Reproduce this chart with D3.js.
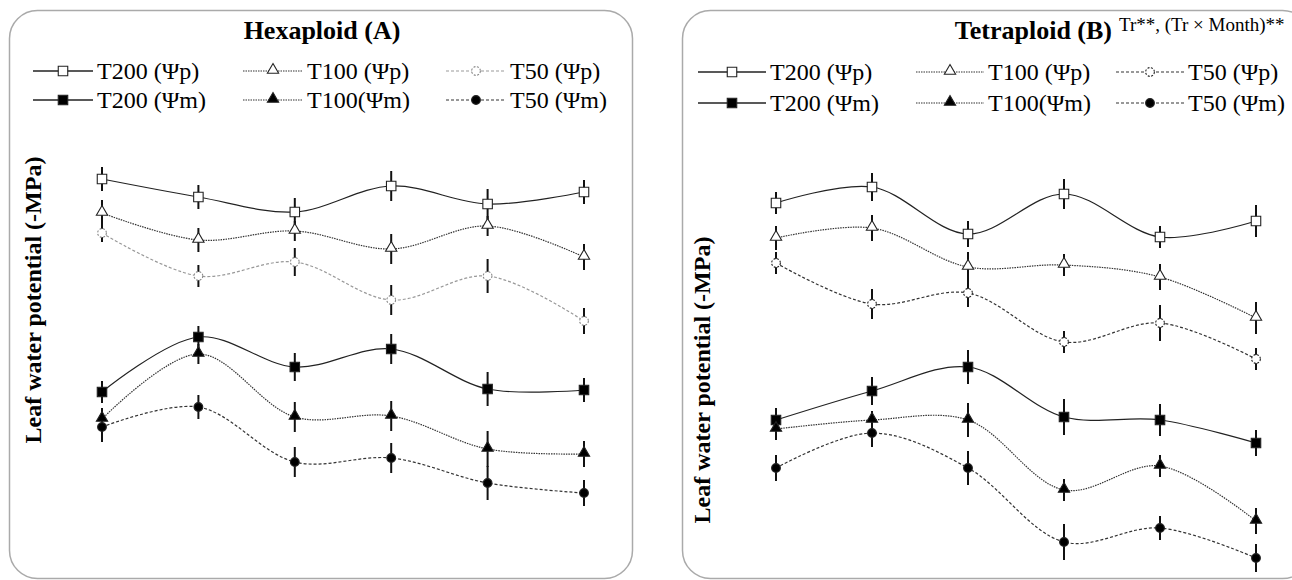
<!DOCTYPE html>
<html>
<head>
<meta charset="utf-8">
<script src="https://cdn.jsdelivr.net/npm/d3@7"></script>
<style>
  body { margin: 0; background: #fff; }
  svg { display: block; font-family: "Liberation Serif", "Times New Roman", serif; }
</style>
</head>
<body>
<div id="chart"></div>
<script>
// months (no labels shown on the figure)
const months = ["M1", "M2", "M3", "M4", "M5", "M6"];

// series keys and legend labels
const seriesKeys = ["T200p", "T100p", "T50p", "T200m", "T100m", "T50m"];
const seriesLabels = ["T200 (Ψp)", "T100 (Ψp)", "T50 (Ψp)", "T200 (Ψm)", "T100(Ψm)", "T50 (Ψm)"];

// Hexaploid (A) – leaf water potential (-MPa), means
const hexT200p = [0.99, 1.17, 1.32, 1.06, 1.24, 1.12];
const hexT100p = [1.33, 1.60, 1.51, 1.69, 1.46, 1.77];
const hexT50p  = [1.53, 1.96, 1.82, 2.20, 1.96, 2.41];
const hexT200m = [3.12, 2.57, 2.87, 2.69, 3.09, 3.10];
const hexT100m = [3.39, 2.74, 3.37, 3.36, 3.69, 3.74];
const hexT50m  = [3.47, 3.27, 3.82, 3.78, 4.03, 4.13];
// Hexaploid (A) – error bars
const hexT200pErr = [0.12, 0.12, 0.14, 0.15, 0.15, 0.12];
const hexT100pErr = [0.13, 0.12, 0.10, 0.15, 0.10, 0.13];
const hexT50pErr  = [0.09, 0.11, 0.14, 0.15, 0.17, 0.13];
const hexT200mErr = [0.11, 0.11, 0.14, 0.15, 0.17, 0.12];
const hexT100mErr = [0.11, 0.10, 0.15, 0.15, 0.18, 0.13];
const hexT50mErr  = [0.15, 0.12, 0.15, 0.15, 0.17, 0.13];

// Tetraploid (B) – means
const tetT200p = [1.23, 1.07, 1.54, 1.14, 1.57, 1.41];
const tetT100p = [1.58, 1.48, 1.87, 1.85, 1.97, 2.38];
const tetT50p  = [1.83, 2.24, 2.13, 2.62, 2.43, 2.79];
const tetT200m = [3.40, 3.11, 2.87, 3.37, 3.40, 3.63];
const tetT100m = [3.49, 3.40, 3.40, 4.10, 3.86, 4.41];
const tetT50m  = [3.88, 3.53, 3.88, 4.62, 4.48, 4.78];
// Tetraploid (B) – error bars
const tetT200pErr = [0.11, 0.14, 0.13, 0.15, 0.11, 0.16];
const tetT100pErr = [0.12, 0.13, 0.15, 0.11, 0.13, 0.16];
const tetT50pErr  = [0.11, 0.15, 0.14, 0.11, 0.18, 0.11];
const tetT200mErr = [0.12, 0.14, 0.17, 0.18, 0.16, 0.13];
const tetT100mErr = [0.11, 0.09, 0.17, 0.11, 0.11, 0.13];
const tetT50mErr  = [0.13, 0.14, 0.17, 0.18, 0.12, 0.14];

const width = 1292;
const height = 580;

const svg = d3.select("#chart").append("svg")
  .attr("width", width)
  .attr("height", height);

// one y scale for both panels (axis itself is not drawn)
const y = d3.scaleLinear().domain([0.5, 5]).range([130, 580]);

// look of each series
const styles = {
  T200p: { shape: "square", fill: "#fff", dash: null, stroke: "#222" },
  T100p: { shape: "triangle", fill: "#fff", dash: "1.5,1", stroke: "#333" },
  T50p:  { shape: "circle", fill: "#fff", dash: "3,2", stroke: "#333" },
  T200m: { shape: "square", fill: "#000", dash: null, stroke: "#222" },
  T100m: { shape: "triangle", fill: "#000", dash: "1.5,1", stroke: "#333" },
  T50m:  { shape: "circle", fill: "#000", dash: "3,2", stroke: "#333" }
};

const symbolFor = (shape) => {
  if (shape === "square") return d3.symbol().type(d3.symbolSquare).size(90);
  if (shape === "triangle") return d3.symbol().type(d3.symbolTriangle).size(55);
  return d3.symbol().type(d3.symbolCircle).size(60);
};

function drawMarker(g, key, cx, cy, lightGrey) {
  const st = styles[key];
  g.append("path")
    .attr("d", symbolFor(st.shape)())
    .attr("transform", st.shape === "triangle" ? `translate(${cx},${cy - 1})` : `translate(${cx},${cy})`)
    .attr("fill", st.fill)
    .attr("stroke", lightGrey && key === "T50p" ? "#888" : "#222")
    .attr("stroke-width", 1.1)
    .attr("stroke-dasharray", key === "T50p" ? "2,1.5" : null);
}

function drawPanel(opt) {
  const g = svg.append("g");

  // rounded frame
  g.append("rect")
    .attr("x", opt.frame[0]).attr("y", 10.5)
    .attr("width", opt.frame[1]).attr("height", 568)
    .attr("rx", 28).attr("ry", 28)
    .attr("fill", "none")
    .attr("stroke", "#aaa")
    .attr("stroke-width", 1.5);

  const x = d3.scalePoint().domain(months).range(opt.xRange);

  const line = d3.line()
    .x((d) => x(d.month))
    .y((d) => y(d.value))
    .curve(d3.curveCatmullRom.alpha(0.5));

  seriesKeys.forEach((key) => {
    const st = styles[key];
    const data = months.map((m, i) => ({ month: m, value: opt.values[key][i], err: opt.errors[key][i] }));
    const grey = opt.lightP && key === "T50p";

    g.append("path")
      .datum(data)
      .attr("fill", "none")
      .attr("stroke", grey ? "#999" : st.stroke)
      .attr("stroke-width", 1.2)
      .attr("stroke-dasharray", st.dash)
      .attr("d", line);

    // error bars
    g.selectAll(null)
      .data(data)
      .enter()
      .append("line")
      .attr("x1", (d) => x(d.month))
      .attr("x2", (d) => x(d.month))
      .attr("y1", (d) => y(d.value - d.err))
      .attr("y2", (d) => y(d.value + d.err))
      .attr("stroke", "#111")
      .attr("stroke-width", 2);
  });

  // markers on top
  seriesKeys.forEach((key) => {
    months.forEach((m, i) => {
      drawMarker(g, key, x(m), y(opt.values[key][i]), opt.lightP);
    });
  });

  // title
  g.append("text")
    .attr("x", opt.titleX)
    .attr("y", 39)
    .attr("text-anchor", opt.titleAnchor)
    .attr("font-size", 26)
    .attr("font-weight", "bold")
    .text(opt.title);

  // y label
  g.append("text")
    .attr("transform", `translate(${opt.ylab[0]},${opt.ylab[1]}) rotate(-90)`)
    .attr("text-anchor", "middle")
    .attr("font-size", 24)
    .attr("font-weight", "bold")
    .text("Leaf water potential (-MPa)");

  // legend
  seriesKeys.forEach((key, i) => {
    const st = styles[key];
    const col = i % 3;
    const row = Math.floor(i / 3);
    const lx = opt.legendX[col];
    const ly = opt.legendY[row];
    const grey = opt.lightP && key === "T50p";
    g.append("line")
      .attr("x1", lx).attr("x2", lx + opt.legendLen)
      .attr("y1", ly).attr("y2", ly)
      .attr("stroke", grey ? "#999" : st.stroke)
      .attr("stroke-width", key.startsWith("T200") ? 1.3 : 1.1)
      .attr("stroke-dasharray", st.dash);
    drawMarker(g, key, lx + opt.legendLen / 2, ly, opt.lightP);
    g.append("text")
      .attr("x", lx + opt.legendLen + 4)
      .attr("y", ly + 8)
      .attr("font-size", 24)
      .text(seriesLabels[i]);
  });
  return g;
}

drawPanel({
  frame: [9.5, 623],
  xRange: [102, 584],
  values: { T200p: hexT200p, T100p: hexT100p, T50p: hexT50p, T200m: hexT200m, T100m: hexT100m, T50m: hexT50m },
  errors: { T200p: hexT200pErr, T100p: hexT100pErr, T50p: hexT50pErr, T200m: hexT200mErr, T100m: hexT100mErr, T50m: hexT50mErr },
  lightP: true,
  title: "Hexaploid (A)",
  titleX: 322,
  titleAnchor: "middle",
  ylab: [41, 300],
  legendX: [33, 243, 446],
  legendLen: 60,
  legendY: [71, 100]
});

const gB = drawPanel({
  frame: [682.5, 628],
  xRange: [776, 1256],
  values: { T200p: tetT200p, T100p: tetT100p, T50p: tetT50p, T200m: tetT200m, T100m: tetT100m, T50m: tetT50m },
  errors: { T200p: tetT200pErr, T100p: tetT100pErr, T50p: tetT50pErr, T200m: tetT200mErr, T100m: tetT100mErr, T50m: tetT50mErr },
  lightP: false,
  title: "Tetraploid (B)",
  titleX: 1112,
  titleAnchor: "end",
  ylab: [710, 380],
  legendX: [698, 916, 1116],
  legendLen: 68,
  legendY: [72, 103]
});

// significance note next to the tetraploid title
gB.append("text")
  .attr("x", 1119)
  .attr("y", 31)
  .attr("font-size", 19)
  .text("Tr**, (Tr × Month)**");
</script>
</body>
</html>
